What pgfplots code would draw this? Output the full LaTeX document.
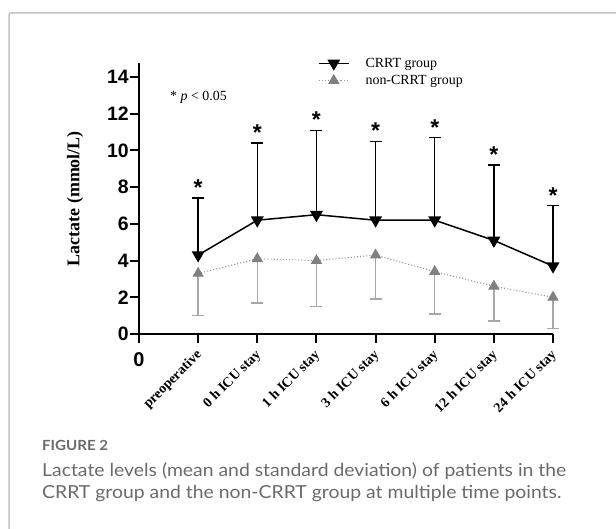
\documentclass[border=0pt]{standalone}
\usepackage{pgfplots}
\pgfplotsset{compat=1.18}
\usepackage{pgfplotstable}
\usepackage{fontspec}
\setmainfont{Liberation Serif}
\newfontfamily\arial{Liberation Sans}
\newfontfamily\capfont{Lato}[FakeStretch=1.08]
\definecolor{bordergray}{HTML}{C4C4C4}
\definecolor{capgray}{HTML}{6A6A6A}
\definecolor{markgray}{HTML}{808080}
\definecolor{errgray}{HTML}{A8A8A8}
\definecolor{linegray}{HTML}{9A9A9A}

\pgfplotstableread{
x y e
1 4.3 3.1
2 6.2 4.2
3 6.5 4.6
4 6.2 4.3
5 6.2 4.5
6 5.1 4.1
7 3.7 3.3
}\crrt
\pgfplotstableread{
x y e
1 3.3 2.3
2 4.1 2.4
3 4.0 2.5
4 4.3 2.4
5 3.4 2.3
6 2.6 1.9
7 2.0 1.7
}\noncrrt
\pgfplotstableread{
x y
1 7.4
2 10.4
3 11.1
4 10.5
5 10.7
6 9.2
7 7.0
}\tops

\begin{document}
\begin{tikzpicture}[x=1bp,y=1bp]
\path[use as bounding box] (0,0) rectangle (616,529);
\draw[color=bordergray, line width=1.5bp, rounded corners=2bp] (9,-10) -- (9,516) -- (630,516);
\begin{axis}[
  at={(139bp,195bp)}, anchor=south west,
  scale only axis, width=414bp, height=270.7bp,
  xmin=0, xmax=7, ymin=0, ymax=14.75,
  axis x line=bottom, axis y line=left,
  axis line style={-, line width=2.5bp, black},
  xtick={1,...,7},
  xticklabels={preoperative, 0 h ICU stay, 1 h ICU stay, 3 h ICU stay, 6 h ICU stay, 12 h ICU stay, 24 h ICU stay},
  xticklabel style={rotate=45, anchor=east, font=\bfseries\fontsize{14}{14}\selectfont, inner sep=1bp, xshift=-4.8bp, yshift=-8.2bp},
  extra x ticks={0}, extra x tick labels={0},
  extra x tick style={xticklabel style={rotate=-45, anchor=north, xshift=-2.4bp, yshift=1.2bp, font=\arial\bfseries\fontsize{20}{20}\selectfont}},
  ytick={0,2,...,14},
  yticklabel style={font=\arial\bfseries\fontsize{19.5}{19.5}\selectfont, inner sep=1bp},
  /pgf/number format/assume math mode=true,
  tick align=outside, major tick length=9bp,
  tick style={line width=2bp, black},
  ylabel={Lactate (mmol/L)},
  ylabel style={at={(axis description cs:-0.1546,0.5)}, anchor=center, font=\bfseries\fontsize{18}{18}\selectfont},
  clip=false,
  legend cell align=left,
  reverse legend,
  legend style={draw=none, fill=none, at={(0.432,1.028)}, anchor=north west, inner sep=0pt, row sep=2.5bp,
    font=\fontsize{14}{16}\selectfont, nodes={inner sep=2bp}},
  legend image code/.code={\draw[mark repeat=2,mark phase=2,#1] plot coordinates {(0bp,0bp) (15bp,0bp) (30bp,0bp)}; \path (44bp,0bp);},
]
\addplot[linegray, dotted, line width=1.1bp, mark=triangle*, mark size=5.5bp,
  mark options={solid, fill=markgray, draw=markgray},
  error bars/.cd, y dir=minus, y explicit,
  error bar style={solid, line width=1.5bp, errgray},
  error mark options={rotate=90, mark size=6bp, line width=1.5bp, errgray}]
  table[x=x, y=y, y error=e] {\noncrrt};
\addplot[black, line width=1.5bp, mark=triangle*, mark size=6bp,
  mark options={rotate=180, solid, fill=black},
  error bars/.cd, y dir=plus, y explicit,
  error bar style={solid, line width=1.5bp, black},
  error mark options={rotate=90, mark size=6bp, line width=1.5bp, black}]
  table[x=x, y=y, y error=e] {\crrt};
\legend{non-CRRT group, CRRT group}
\addplot[draw=none, mark=none, forget plot, nodes near coords={*},
  every node near coord/.append style={anchor=base, yshift=2.5bp, font=\arial\bfseries\fontsize{23}{23}\selectfont, inner sep=0pt}]
  table[x=x, y=y] {\tops};
\end{axis}
\node[anchor=base west, inner sep=0pt, font=\fontsize{14}{16}\selectfont] at (170,428) {* \textit{p} < 0.05};
\node[anchor=base west, inner sep=0pt, font=\capfont\bfseries\fontsize{14}{14}\selectfont, text=capgray] at (42,78) {FIGURE 2};
\node[anchor=base west, inner sep=0pt, font=\capfont\fontsize{18}{18}\selectfont, text=capgray] at (42,52) {Lactate levels (mean and standard deviation) of patients in the};
\node[anchor=base west, inner sep=0pt, font=\capfont\fontsize{18}{18}\selectfont, text=capgray] at (42,30) {CRRT group and the non-CRRT group at multiple time points.};
\end{tikzpicture}
\end{document}
